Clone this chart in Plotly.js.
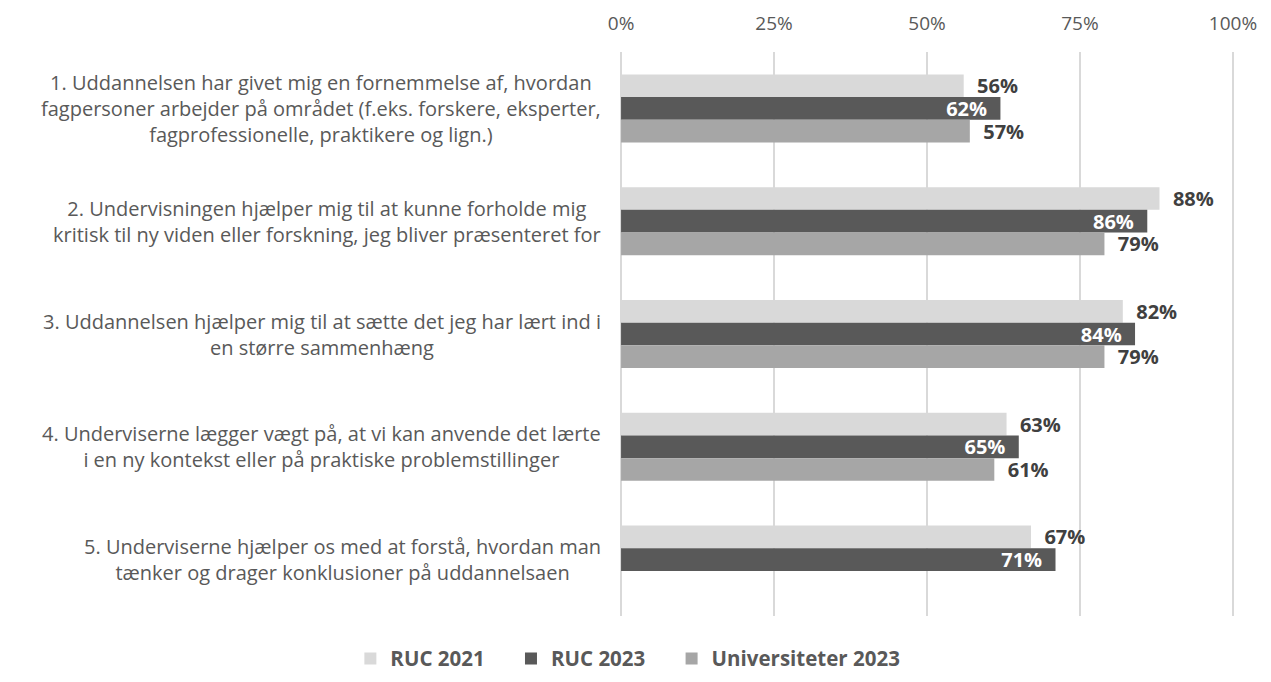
<!DOCTYPE html>
<html>
<head>
<meta charset="utf-8">
<script src="https://cdn.plot.ly/plotly-3.0.1.min.js"></script>
<style>html,body{margin:0;padding:0;background:#fff;}#chart{width:1271px;height:682px;}</style>
</head>
<body>
<div id="chart"></div>
<script>
const categories = [
  "1. Uddannelsen har givet mig en fornemmelse af, hvordan<br>fagpersoner arbejder på området (f.eks. forskere, eksperter,<br>fagprofessionelle, praktikere og lign.)",
  "2. Undervisningen hjælper mig til at kunne forholde mig<br>kritisk til ny viden eller forskning, jeg bliver præsenteret for",
  "3. Uddannelsen hjælper mig til at sætte det jeg har lært ind i<br>en større sammenhæng",
  "4. Underviserne lægger vægt på, at vi kan anvende det lærte<br>i en ny kontekst eller på praktiske problemstillinger",
  "5. Underviserne hjælper os med at forstå, hvordan man<br>tænker og drager konklusioner på uddannelsaen"
];
const seriesNames = ["RUC 2021", "RUC 2023", "Universiteter 2023"];
const ruc2021 = [0.56, 0.88, 0.82, 0.63, 0.67];
const ruc2023 = [0.62, 0.86, 0.84, 0.65, 0.71];
const uni2023 = [0.57, 0.79, 0.79, 0.61, null];
const xTicks = [0, 0.25, 0.5, 0.75, 1];
const xTickLabels = ["0%", "25%", "50%", "75%", "100%"];

const FONT = "Open Sans, Noto Sans, sans-serif";
const pct = v => v == null ? "" : Math.round(v * 100) + "%";
const NB = "\u00a0";
const legendPad = NB.repeat(4);

function outsideTrace(name, vals, color) {
  return {
    type: "bar", orientation: "h", name: name,
    y: categories, x: vals,
    marker: {color: color},
    text: vals.map(v => v == null ? "" : NB + NB + pct(v)),
    textposition: "outside",
    constraintext: "none",
    textfont: {family: FONT, size: 20, color: "#404040", weight: "bold"},
    cliponaxis: false,
    hoverinfo: "skip"
  };
}

const traces = [
  outsideTrace(seriesNames[0] + legendPad, ruc2021, "#D9D9D9"),
  {
    type: "bar", orientation: "h", name: seriesNames[1] + legendPad,
    y: categories, x: ruc2023,
    marker: {color: "#595959"},
    text: ruc2023.map(v => pct(v) + NB + NB),
    textposition: "inside",
    insidetextanchor: "end",
    constraintext: "none",
    textfont: {family: FONT, size: 20, color: "#FFFFFF", weight: "bold"},
    hoverinfo: "skip"
  },
  outsideTrace(seriesNames[2], uni2023, "#A6A6A6")
];

const annotations = categories.map(c => ({
  xref: "paper", yref: "y", x: -0.024, y: c,
  xanchor: "right", yanchor: "middle", align: "center",
  text: c, showarrow: false,
  font: {family: FONT, size: 20, color: "#595959"}
}));

const layout = {
  width: 1271, height: 682,
  margin: {l: 618, r: 35, t: 52, b: 66},
  paper_bgcolor: "#fff", plot_bgcolor: "#fff",
  barmode: "group", bargap: 0.397, bargroupgap: 0,
  showlegend: true,
  legend: {
    orientation: "h", xref: "container", yref: "container",
    x: 0.494, xanchor: "center", y: 0.005, yanchor: "bottom",
    font: {family: FONT, size: 20.5, color: "#595959", weight: "bold"},
    itemwidth: 30, traceorder: "normal"
  },
  xaxis: {
    side: "top", range: [-0.005, 1.005], tickvals: xTicks, ticktext: xTickLabels,
    showgrid: true, gridcolor: "#D9D9D9", gridwidth: 1.6,
    zeroline: false, showline: false, ticks: "",
    tickfont: {family: FONT, size: 19, color: "#595959"},
    ticklabelstandoff: 17, fixedrange: true
  },
  yaxis: {
    type: "category", autorange: "reversed",
    showticklabels: false, showgrid: false, zeroline: false, showline: false, ticks: "",
    fixedrange: true
  },
  annotations: annotations
};

Plotly.newPlot("chart", traces, layout, {displayModeBar: false, staticPlot: true});
</script>
</body>
</html>
